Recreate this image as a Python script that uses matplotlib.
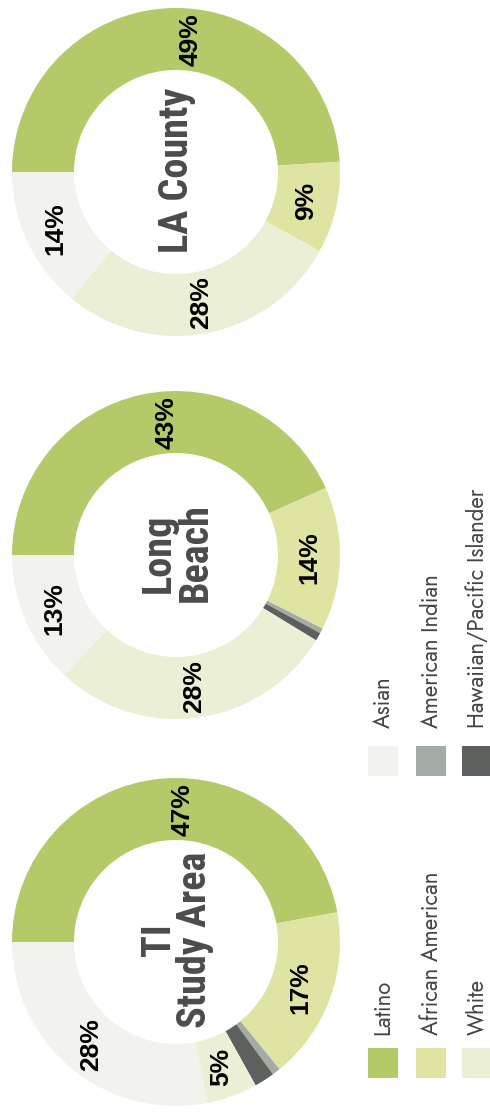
import matplotlib
matplotlib.use("Agg")
import matplotlib.pyplot as plt
from matplotlib.patches import Rectangle
import numpy as np

# ---------------- data ----------------
categories = ['Latino', 'African American', 'American Indian',
              'Hawaiian/Pacific Islander', 'White', 'Asian']
colors = ['#b4c968', '#dfe4a2', '#a4aaa6', '#5c615e', '#ebefd5', '#f2f2ee']

titles = ['LA County', 'Long\nBeach', 'TI\nStudy Area']
la_values = [49, 9, 0, 0, 28, 14]
lb_values = [43, 14, 0.5, 0.8, 28, 13]
ti_values = [47, 17, 0.8, 2.0, 5, 28]
la_labels = ['49%', '9%', None, None, '28%', '14%']
lb_labels = ['43%', '14%', None, None, '28%', '13%']
ti_labels = ['47%', '17%', None, None, '5%', '28%']

legend_col1 = ['Latino', 'African American', 'White']
legend_col2 = ['Asian', 'American Indian', 'Hawaiian/Pacific Islander']

# ---------------- layout ----------------
W, H = 490, 1117
fig = plt.figure(figsize=(W / 100, H / 100), dpi=100)
ax = fig.add_axes([0, 0, 1, 1])

centers = [(176, H - 172), (176, H - 555), (176, H - 942)]
R_OUT = 164
RING = 62
LABEL_R = 133
label_nudge = {0: -8}  # Latino labels sit a little clockwise of midpoint

charts = [(la_values, la_labels), (lb_values, lb_labels), (ti_values, ti_labels)]
title_font = dict(family=['Roboto Condensed', 'DejaVu Sans'],
                  fontweight='bold', fontsize=29, color='#4b4b4b')
pct_font = dict(family=['Liberation Sans', 'DejaVu Sans'],
                fontweight='bold', fontsize=19, color='black')

for (vals, labs), c, title in zip(charts, centers, titles):
    wedges, _ = ax.pie(vals, colors=colors, startangle=180, counterclock=False,
                       center=c, radius=R_OUT,
                       wedgeprops=dict(width=RING, linewidth=0))
    for i, (w, lab) in enumerate(zip(wedges, labs)):
        if lab is None:
            continue
        mid = 0.5 * (w.theta1 + w.theta2) + label_nudge.get(i, 0)
        x = c[0] + LABEL_R * np.cos(np.radians(mid))
        y = c[1] + LABEL_R * np.sin(np.radians(mid))
        ax.text(x, y, lab, rotation=90, ha='center', va='center', **pct_font)
    ax.text(c[0] + 1, c[1] + 2, title, rotation=90, ha='center', va='center',
            multialignment='center', linespacing=0.95, **title_font)

# legend (rotated layout)
leg_cols_x = [383, 431, 477]
leg_rows = [(H - 1063, H - 1035), (H - 761, H - 728)]  # (square center y, label start y)
SQ = 30
leg_font = dict(family=['Jost', 'DejaVu Sans'], fontweight='normal',
                fontsize=16, color='#444444')
cat_color = dict(zip(categories, colors))
for grp, cats in enumerate([legend_col1, legend_col2]):
    sy, ly = leg_rows[grp]
    for cx, cat in zip(leg_cols_x, cats):
        ax.add_patch(Rectangle((cx - SQ / 2, sy - SQ / 2), SQ, SQ,
                               color=cat_color[cat], lw=0))
        ax.text(cx, ly, cat, rotation=90, rotation_mode='anchor',
                ha='left', va='center', **leg_font)

ax.set_xlim(0, W)
ax.set_ylim(0, H)
ax.set_aspect('equal')
ax.axis('off')
fig.savefig('out.png', dpi=100, facecolor='white')
